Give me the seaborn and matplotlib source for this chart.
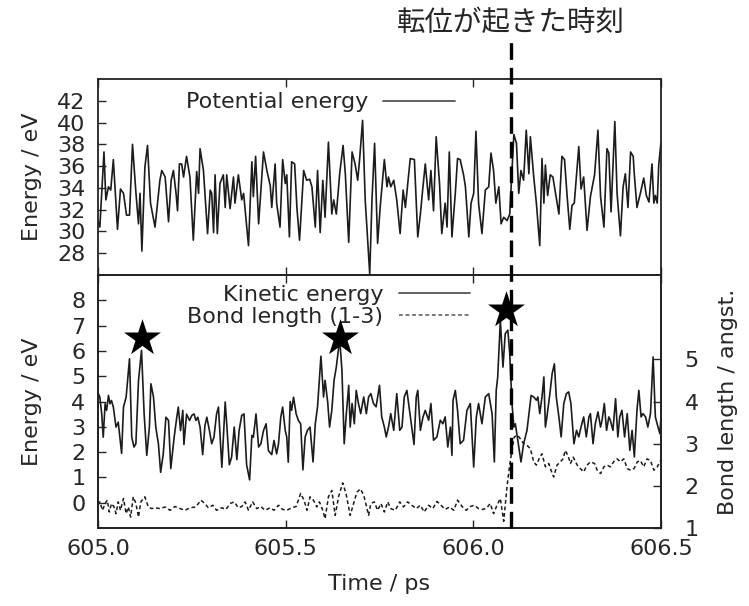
import numpy as np
import matplotlib
matplotlib.use("Agg")
import matplotlib.pyplot as plt
import matplotlib.transforms as mtransforms
from matplotlib.lines import Line2D
import seaborn as sns

# ---- data ----
pot_time = [
    605.000, 605.005, 605.016, 605.021, 605.028, 605.034, 605.041, 605.052, 605.060, 605.068,
    605.076, 605.084, 605.092, 605.101, 605.108, 605.112, 605.117, 605.125, 605.132, 605.140,
    605.152, 605.165, 605.170, 605.179, 605.188, 605.195, 605.201, 605.208, 605.212, 605.217,
    605.223, 605.228, 605.236, 605.245, 605.254, 605.263, 605.268, 605.272, 605.281, 605.292,
    605.299, 605.303, 605.308, 605.312, 605.318, 605.325, 605.334, 605.339, 605.343, 605.352,
    605.361, 605.365, 605.374, 605.383, 605.388, 605.401, 605.410, 605.414, 605.420, 605.428,
    605.441, 605.450, 605.459, 605.463, 605.472, 605.476, 605.485, 605.492, 605.499, 605.503,
    605.510, 605.516, 605.524, 605.530, 605.537, 605.548, 605.556, 605.564, 605.570, 605.579,
    605.585, 605.592, 605.599, 605.605, 605.614, 605.623, 605.628, 605.635, 605.644, 605.653,
    605.659, 605.668, 605.677, 605.685, 605.692, 605.697, 605.705, 605.712, 605.724, 605.730,
    605.737, 605.745, 605.752, 605.763, 605.770, 605.774, 605.780, 605.788, 605.796, 605.805,
    605.813, 605.819, 605.832, 605.843, 605.852, 605.859, 605.865, 605.872, 605.881, 605.887,
    605.894, 605.901, 605.910, 605.916, 605.925, 605.930, 605.936, 605.943, 605.952, 605.958,
    605.965, 605.974, 605.979, 605.988, 605.994, 606.001, 606.007, 606.014, 606.023, 606.032,
    606.041, 606.047, 606.054, 606.060, 606.068, 606.074, 606.081, 606.090, 606.097, 606.108,
    606.115, 606.121, 606.127, 606.134, 606.141, 606.148, 606.152, 606.161, 606.168, 606.177,
    606.183, 606.188, 606.192, 606.198, 606.205, 606.212, 606.219, 606.228, 606.236, 606.243,
    606.250, 606.257, 606.263, 606.269, 606.281, 606.287, 606.294, 606.303, 606.312, 606.323,
    606.332, 606.339, 606.348, 606.356, 606.361, 606.367, 606.377, 606.383, 606.392, 606.399,
    606.405, 606.412, 606.419, 606.426, 606.429, 606.436, 606.445, 606.454, 606.461, 606.468,
    606.476, 606.481, 606.485, 606.490, 606.494, 606.500,
]
pot_energy = [
    31.0, 30.4, 37.3, 32.9, 34.1, 33.8, 36.6, 30.2, 33.9, 33.5,
    31.5, 31.5, 38.0, 33.6, 30.7, 33.5, 28.2, 35.9, 37.9, 32.6,
    30.4, 34.7, 35.6, 35.0, 30.9, 34.7, 35.6, 33.5, 31.9, 36.2,
    36.2, 35.0, 36.9, 35.0, 29.2, 35.5, 33.5, 37.6, 35.6, 29.8,
    33.8, 33.5, 29.9, 35.2, 29.8, 34.4, 35.2, 32.2, 35.2, 32.1,
    35.0, 32.6, 35.2, 32.9, 33.5, 28.7, 36.4, 33.2, 36.9, 30.7,
    37.3, 35.6, 34.2, 32.2, 36.2, 32.6, 30.4, 36.6, 34.4, 35.2,
    29.5, 36.4, 36.2, 32.2, 29.2, 35.6, 34.7, 34.8, 34.1, 30.4,
    35.6, 29.9, 34.7, 31.3, 38.2, 31.6, 32.9, 31.6, 35.3, 37.9,
    35.3, 29.0, 37.3, 36.2, 34.7, 36.6, 40.2, 32.9, 26.1, 32.9,
    38.1, 28.9, 32.3, 36.6, 34.1, 35.0, 34.1, 34.7, 32.9, 29.8,
    33.8, 32.2, 36.7, 36.6, 29.5, 31.6, 33.8, 36.2, 32.9, 35.6,
    31.9, 38.7, 34.4, 29.8, 32.6, 30.4, 37.3, 29.5, 33.5, 36.7,
    36.6, 35.2, 34.1, 29.5, 32.6, 33.5, 39.2, 32.6, 29.8, 33.8,
    34.1, 37.2, 35.6, 32.6, 34.1, 30.7, 31.3, 31.0, 31.6, 38.9,
    38.1, 33.5, 35.6, 34.7, 39.3, 35.3, 38.7, 35.0, 32.6, 28.7,
    36.7, 32.6, 36.1, 33.3, 35.2, 35.0, 33.5, 31.6, 36.9, 36.6,
    33.2, 30.2, 32.4, 32.6, 37.8, 33.9, 35.0, 30.1, 33.2, 35.2,
    39.3, 33.2, 30.4, 37.6, 37.2, 31.8, 40.1, 33.5, 29.6, 34.1,
    35.3, 32.2, 37.3, 36.9, 35.2, 32.2, 33.5, 34.9, 33.3, 32.7,
    36.2, 32.6, 33.3, 32.6, 36.1, 38.2,
]

kin_time = [
    605.001, 605.005, 605.010, 605.014, 605.019, 605.023, 605.028, 605.032, 605.036, 605.041,
    605.048, 605.054, 605.063, 605.068, 605.075, 605.084, 605.090, 605.096, 605.101, 605.108,
    605.116, 605.123, 605.130, 605.137, 605.141, 605.148, 605.154, 605.161, 605.167, 605.174,
    605.181, 605.188, 605.194, 605.203, 605.210, 605.214, 605.220, 605.226, 605.229, 605.236,
    605.244, 605.250, 605.256, 605.261, 605.266, 605.272, 605.279, 605.285, 605.290, 605.297,
    605.303, 605.309, 605.316, 605.321, 605.330, 605.339, 605.343, 605.350, 605.356, 605.363,
    605.370, 605.376, 605.383, 605.389, 605.396, 605.404, 605.410, 605.414, 605.421, 605.428,
    605.434, 605.441, 605.448, 605.454, 605.463, 605.469, 605.476, 605.481, 605.487, 605.492,
    605.499, 605.503, 605.507, 605.512, 605.516, 605.521, 605.528, 605.534, 605.540, 605.546,
    605.552, 605.558, 605.565, 605.573, 605.579, 605.585, 605.594, 605.601, 605.605, 605.612,
    605.617, 605.623, 605.629, 605.635, 605.644, 605.650, 605.656, 605.661, 605.668, 605.672,
    605.677, 605.683, 605.688, 605.694, 605.700, 605.708, 605.715, 605.721, 605.727, 605.734,
    605.741, 605.750, 605.756, 605.763, 605.768, 605.774, 605.780, 605.788, 605.796, 605.804,
    605.810, 605.816, 605.823, 605.830, 605.836, 605.842, 605.848, 605.852, 605.859, 605.866,
    605.872, 605.881, 605.887, 605.894, 605.903, 605.912, 605.919, 605.925, 605.932, 605.939,
    605.943, 605.946, 605.952, 605.958, 605.965, 605.974, 605.983, 605.992, 606.001, 606.008,
    606.014, 606.023, 606.032, 606.041, 606.050, 606.056, 606.061, 606.065, 606.072, 606.079,
    606.085, 606.092, 606.097, 606.103, 606.108, 606.112, 606.121, 606.127, 606.134, 606.143,
    606.154, 606.161, 606.168, 606.172, 606.177, 606.183, 606.188, 606.192, 606.196, 606.204,
    606.210, 606.216, 606.221, 606.228, 606.234, 606.241, 606.248, 606.254, 606.260, 606.268,
    606.275, 606.281, 606.287, 606.294, 606.301, 606.308, 606.312, 606.319, 606.325, 606.332,
    606.339, 606.343, 606.349, 606.355, 606.361, 606.365, 606.372, 606.379, 606.385, 606.390,
    606.396, 606.403, 606.410, 606.417, 606.423, 606.429, 606.436, 606.441, 606.447, 606.452,
    606.459, 606.465, 606.472, 606.479, 606.485, 606.492, 606.497, 606.500,
]
kin_energy = [
    4.31, 4.17, 3.51, 2.59, 3.91, 3.65, 4.24, 3.91, 4.04, 3.78,
    2.99, 3.18, 1.95, 3.78, 4.17, 5.69, 2.59, 2.20, 2.33, 4.83,
    6.02, 3.51, 1.87, 2.99, 4.70, 4.17, 2.99, 2.33, 1.20, 1.93,
    3.38, 3.25, 1.35, 2.59, 3.38, 3.78, 2.85, 3.65, 2.30, 3.50,
    3.25, 3.45, 3.51, 3.25, 3.38, 2.99, 1.90, 3.05, 3.38, 2.85,
    2.33, 2.59, 3.51, 3.78, 1.40, 3.98, 3.12, 1.50, 1.80, 2.99,
    1.70, 2.85, 3.45, 3.51, 1.50, 0.90, 2.66, 2.59, 3.51, 2.20,
    2.33, 2.85, 3.12, 2.06, 1.90, 2.46, 1.93, 2.33, 3.38, 3.78,
    2.85, 2.59, 1.60, 4.00, 3.65, 4.17, 3.51, 3.25, 3.12, 1.30,
    2.60, 2.86, 2.99, 1.61, 3.12, 3.79, 5.79, 4.18, 4.84, 3.98,
    2.99, 3.65, 4.84, 5.36, 6.48, 5.23, 2.33, 3.39, 4.64, 2.99,
    3.92, 3.12, 4.44, 3.92, 3.52, 4.18, 3.52, 4.18, 4.31, 3.92,
    3.79, 4.64, 3.39, 2.99, 2.60, 2.99, 3.52, 2.86, 4.31, 2.86,
    2.99, 4.18, 4.44, 3.65, 2.99, 2.30, 4.18, 4.44, 2.86, 3.39,
    3.65, 3.26, 3.92, 2.47, 2.60, 3.26, 3.12, 3.39, 2.20, 2.99,
    1.87, 4.05, 4.44, 3.65, 2.33, 2.47, 3.65, 3.92, 1.41, 3.39,
    3.92, 3.12, 4.18, 4.31, 3.52, 1.61, 4.44, 4.97, 7.21, 5.36,
    6.68, 6.82, 5.89, 3.92, 2.99, 3.12, 2.20, 1.61, 2.33, 2.86,
    4.24, 4.18, 4.05, 4.18, 3.52, 4.18, 4.97, 2.99, 3.39, 4.31,
    5.10, 5.49, 4.18, 3.39, 2.60, 3.92, 4.31, 4.38, 3.92, 2.33,
    2.86, 2.60, 2.99, 3.39, 2.60, 3.39, 3.52, 2.33, 3.12, 3.59,
    2.99, 3.26, 3.92, 2.86, 3.39, 3.26, 2.86, 4.11, 2.60, 3.39,
    3.65, 2.60, 3.52, 2.07, 2.86, 1.81, 3.65, 4.44, 3.39, 3.52,
    3.39, 2.99, 3.52, 5.76, 3.39, 2.99, 2.73, 3.39,
]

bond_time = [
    605.000, 605.005, 605.012, 605.019, 605.025, 605.030, 605.036, 605.043, 605.048, 605.054,
    605.060, 605.068, 605.075, 605.081, 605.087, 605.094, 605.101, 605.108, 605.114, 605.125,
    605.134, 605.143, 605.152, 605.165, 605.179, 605.192, 605.205, 605.219, 605.232, 605.245,
    605.261, 605.274, 605.285, 605.294, 605.306, 605.316, 605.330, 605.341, 605.352, 605.363,
    605.374, 605.383, 605.392, 605.401, 605.412, 605.423, 605.434, 605.445, 605.459, 605.469,
    605.481, 605.492, 605.503, 605.516, 605.528, 605.540, 605.549, 605.557, 605.565, 605.574,
    605.583, 605.590, 605.599, 605.605, 605.614, 605.623, 605.632, 605.641, 605.652, 605.661,
    605.672, 605.681, 605.690, 605.699, 605.708, 605.721, 605.727, 605.736, 605.745, 605.754,
    605.763, 605.772, 605.780, 605.792, 605.804, 605.814, 605.825, 605.836, 605.848, 605.859,
    605.869, 605.881, 605.892, 605.903, 605.914, 605.925, 605.937, 605.948, 605.958, 605.970,
    605.981, 605.992, 606.003, 606.014, 606.026, 606.036, 606.045, 606.054, 606.063, 606.072,
    606.081, 606.090, 606.097, 606.103, 606.109, 606.118, 606.125, 606.134, 606.143, 606.152,
    606.161, 606.168, 606.177, 606.183, 606.192, 606.201, 606.207, 606.214, 606.223, 606.232,
    606.239, 606.245, 606.252, 606.259, 606.266, 606.277, 606.285, 606.294, 606.303, 606.312,
    606.323, 606.330, 606.339, 606.348, 606.357, 606.365, 606.374, 606.383, 606.392, 606.401,
    606.410, 606.419, 606.428, 606.437, 606.445, 606.454, 606.463, 606.472, 606.481, 606.490,
    606.499,
]
bond_length = [
    1.55, 1.62, 1.42, 1.58, 1.66, 1.38, 1.58, 1.50, 1.34, 1.62,
    1.42, 1.70, 1.34, 1.50, 1.26, 1.74, 1.58, 1.26, 1.62, 1.74,
    1.50, 1.46, 1.48, 1.46, 1.50, 1.42, 1.51, 1.46, 1.42, 1.48,
    1.50, 1.66, 1.58, 1.48, 1.54, 1.42, 1.48, 1.44, 1.58, 1.62,
    1.48, 1.51, 1.62, 1.42, 1.62, 1.46, 1.51, 1.42, 1.48, 1.42,
    1.54, 1.44, 1.42, 1.48, 1.51, 1.82, 1.66, 1.42, 1.74, 1.66,
    1.50, 1.62, 1.42, 1.22, 1.74, 1.89, 1.30, 1.74, 2.07, 1.81,
    1.30, 1.58, 1.85, 1.93, 1.78, 1.30, 1.58, 1.62, 1.42, 1.58,
    1.38, 1.62, 1.46, 1.42, 1.62, 1.50, 1.62, 1.54, 1.46, 1.54,
    1.38, 1.54, 1.46, 1.63, 1.54, 1.44, 1.50, 1.42, 1.66, 1.51,
    1.42, 1.51, 1.54, 1.46, 1.44, 1.48, 1.58, 1.34, 1.54, 1.70,
    1.16, 2.00, 2.50, 2.84, 3.16, 3.20, 3.12, 3.00, 2.96, 2.88,
    2.57, 2.49, 2.68, 2.76, 2.45, 2.53, 2.37, 2.21, 2.49, 2.57,
    2.64, 2.84, 2.72, 2.53, 2.68, 2.49, 2.41, 2.33, 2.49, 2.57,
    2.53, 2.37, 2.29, 2.45, 2.49, 2.45, 2.57, 2.64, 2.57, 2.64,
    2.41, 2.37, 2.41, 2.57, 2.60, 2.45, 2.64, 2.60, 2.37, 2.45,
    2.60,
]

star_time = [605.118, 605.646, 606.087]
star_energy = [6.5, 6.5, 7.6]
event_time = 606.10
event_label = "転位が起きた時刻"

x_ticks = [605.0, 605.5, 606.0, 606.5]
pot_ticks = [28, 30, 32, 34, 36, 38, 40, 42]
kin_ticks = [0, 1, 2, 3, 4, 5, 6, 7, 8]
bond_ticks = [1, 2, 3, 4, 5]

# ---- style ----
sns.set_theme(style="ticks")
plt.rcParams["font.family"] = ["DejaVu Sans", "Noto Sans CJK JP"]
plt.rcParams["axes.linewidth"] = 1.3
plt.rcParams["axes.edgecolor"] = "#222222"

FS = 16
LINE = "#1c1c1c"
KEY = "#555555"

fig = plt.figure(figsize=(7.49, 6.06), dpi=100)
ax_top = fig.add_axes([0.1308, 0.5462, 0.7517, 0.3234])
ax_bot = fig.add_axes([0.1308, 0.1287, 0.7517, 0.4175])
ax_bond = ax_bot.twinx()

# top: potential energy
sns.lineplot(x=pot_time, y=pot_energy, ax=ax_top, color=LINE, lw=1.2,
             estimator=None, sort=False, legend=False)
ax_top.set_xlim(605.0, 606.5)
ax_top.set_ylim(26, 44)
ax_top.set_xticks(x_ticks)
ax_top.set_yticks(pot_ticks)
ax_top.tick_params(axis="x", labelbottom=False, top=True, direction="in", length=6, width=1)
ax_top.tick_params(axis="y", direction="in", length=6, width=1, labelsize=FS, pad=9)
ax_top.set_xlabel("")
ax_top.set_ylabel("Energy / eV", fontsize=FS)
ax_top.yaxis.set_label_coords(-0.10, 0.5)
ax_top.legend([Line2D([], [], color=KEY, lw=1.3)], ["Potential energy"],
              loc="upper right", bbox_to_anchor=(0.657, 1.0), frameon=False,
              markerfirst=False, fontsize=FS, handlelength=3.2, handletextpad=0.7,
              borderaxespad=0.2)

# bottom: kinetic energy + bond length
sns.lineplot(x=kin_time, y=kin_energy, ax=ax_bot, color=LINE, lw=1.2,
             estimator=None, sort=False, legend=False)
sns.lineplot(x=bond_time, y=bond_length, ax=ax_bond, color=LINE, lw=1.1,
             estimator=None, sort=False, legend=False)
ax_bond.lines[0].set_dashes([2.5, 1.8])
sns.scatterplot(x=star_time, y=star_energy, ax=ax_bot, marker="*", s=780,
                color="black", edgecolor="black", linewidth=0, zorder=5, legend=False)

ax_bot.set_xlim(605.0, 606.5)
ax_bot.set_ylim(-1, 9)
ax_bond.set_ylim(1, 7)
ax_bot.set_xticks(x_ticks)
ax_bot.set_xticklabels([f"{v:.1f}" for v in x_ticks])
ax_bot.set_yticks(kin_ticks)
ax_bond.set_yticks(bond_ticks)
ax_bot.tick_params(axis="x", top=True, direction="in", length=6, width=1, labelsize=FS, pad=8)
ax_bot.tick_params(axis="y", direction="in", length=6, width=1, labelsize=FS, pad=9)
ax_bond.tick_params(axis="y", direction="in", length=6, width=1, labelsize=FS, pad=17)
ax_bot.set_xlabel("Time / ps", fontsize=FS)
ax_bot.xaxis.set_label_coords(0.5, -0.182)
ax_bot.set_ylabel("Energy / eV", fontsize=FS)
ax_bot.yaxis.set_label_coords(-0.10, 0.5)
ax_bond.set_ylabel("Bond length / angst.", fontsize=FS)
ax_bond.yaxis.set_label_coords(1.101, 0.5)

handles = [Line2D([], [], color=KEY, lw=1.3),
           Line2D([], [], color=KEY, lw=1.1, dashes=[2.5, 1.8])]
ax_bond.legend(handles, ["Kinetic energy", "Bond length (1-3)"], loc="upper right",
               bbox_to_anchor=(0.678, 1.0), frameon=False, markerfirst=False,
               fontsize=FS, handlelength=3.2, handletextpad=0.7, labelspacing=0.1,
               borderaxespad=0.05)

for a in (ax_top, ax_bot, ax_bond):
    for s in a.spines.values():
        s.set_visible(True)
        s.set_color("#222222")

# event marker: dashed vertical line through both panels, label above
trans = mtransforms.blended_transform_factory(ax_top.transData, fig.transFigure)
fig.add_artist(Line2D([event_time, event_time], [0.1287, 0.937], transform=trans,
                      color="black", lw=2.4, dashes=[5, 2.4]))
fig.text(event_time, 0.962, event_label, transform=trans, ha="center", va="center",
         fontsize=20.5, family=["Noto Sans CJK JP"])

fig.savefig("out.png", dpi=100)
